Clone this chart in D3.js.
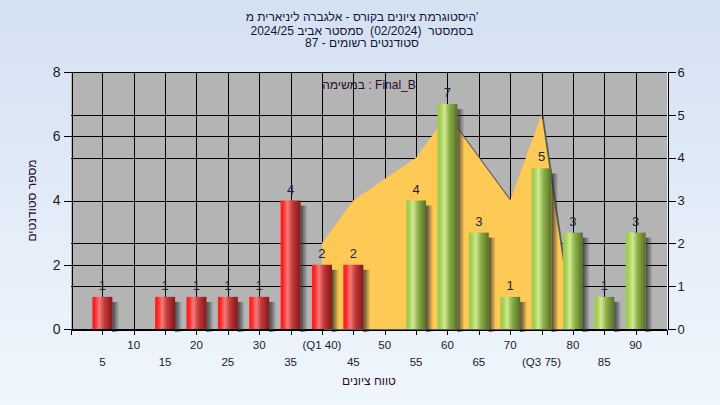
<!DOCTYPE html>
<html><head><meta charset="utf-8">
<script src="https://cdn.jsdelivr.net/npm/d3@7"></script>
<style>body{margin:0;}svg{display:block;} text{white-space:pre;}</style>
</head><body><svg id="c" width="720" height="405"></svg>
<script>
// ---- data ----
const categories = [5,10,15,20,25,30,35,40,45,50,55,60,65,70,75,80,85,90];
const counts     = [1,0,1,1,1,1,4,2,2,0,4,7,3,1,5,3,1,3];
const xLabels    = ["5","10","15","20","25","30","35","(Q1 40)","45","50","55","60","65","70","(Q3 75)","80","85","90"];
const passMark   = 50;
const areaX      = [40,40,45,50,55,60,65,70,75,80];
const areaY      = [0,2,3,3.5,4,5,4,3,5,0];
const leftTicks  = [0,2,4,6,8];
const rightTicks = [0,1,2,3,4,5,6];
const titleLines = ["היסטוגרמת ציונים בקורס - אלגברה ליניארית מ'", "בסמסטר  (02/2024)  סמסטר אביב 2024/25", "סטודנטים רשומים - 87"];
const taskLabel  = "במשימה : Final_B";
const yTitle = "מספר סטודנטים";
const xTitle = "טווח ציונים";

const svg = d3.select("#c");
const W = 720, H = 405;
const L = 71, R = 667, T = 72, B = 329;
const FONT = "'Liberation Sans', Arial, sans-serif";

const defs = svg.append("defs");
const bg = defs.append("linearGradient").attr("id","bg").attr("x1",0).attr("y1",0).attr("x2",0).attr("y2",1);
bg.append("stop").attr("offset","0%").attr("stop-color","#d4e1f2");
bg.append("stop").attr("offset","100%").attr("stop-color","#f0f6fd");
function cyl(id, c0, c1, c2, c3){
  const g = defs.append("linearGradient").attr("id",id).attr("x1",0).attr("y1",0).attr("x2",1).attr("y2",0);
  g.append("stop").attr("offset","0%").attr("stop-color",c0);
  g.append("stop").attr("offset","12%").attr("stop-color",c0);
  g.append("stop").attr("offset","35%").attr("stop-color",c1);
  g.append("stop").attr("offset","60%").attr("stop-color",c2);
  g.append("stop").attr("offset","100%").attr("stop-color",c3);
}
cyl("gRed","#ff2222","#f57a7a","#c23a3a","#861616");
cyl("gGreen","#a2cc4c","#cfe894","#8cb048","#566f26");
const sh = defs.append("linearGradient").attr("id","sh").attr("x1",0).attr("y1",0).attr("x2",1).attr("y2",0);
sh.append("stop").attr("offset","0%").attr("stop-color","#303030").attr("stop-opacity",0.85);
sh.append("stop").attr("offset","100%").attr("stop-color","#303030").attr("stop-opacity",0);

svg.append("rect").attr("width",W).attr("height",H).attr("fill","url(#bg)");

const x = d3.scaleLinear().domain([0,95]).range([L,R]);
const yL = d3.scaleLinear().domain([0,8]).range([B,T]);
const yR = d3.scaleLinear().domain([0,6]).range([B,T]);

// plot bg
svg.append("rect").attr("x",L).attr("y",T).attr("width",R-L).attr("height",B-T).attr("fill","#b4b4b4");

// gridlines
const grid = svg.append("g").attr("stroke","#000").attr("stroke-width",1).attr("shape-rendering","crispEdges");
leftTicks.forEach(v=>grid.append("line").attr("x1",L).attr("x2",R).attr("y1",Math.round(yL(v))+0.5).attr("y2",Math.round(yL(v))+0.5));
rightTicks.forEach(v=>grid.append("line").attr("x1",L).attr("x2",R).attr("y1",Math.round(yR(v))+0.5).attr("y2",Math.round(yR(v))+0.5));
categories.forEach(c=>grid.append("line").attr("x1",Math.round(x(c))+0.5).attr("x2",Math.round(x(c))+0.5).attr("y1",T).attr("y2",B));

// area
const areaPts = areaX.map((v,i)=>[x(v), yR(areaY[i])]);
const line = d3.line();
svg.append("path").attr("d", line(areaPts.map(p=>[p[0]+2,p[1]+1]))+"Z").attr("fill","#5a5a5a");
svg.append("path").attr("d", line(areaPts)+"Z").attr("fill","#fec955");

// bars
const bw = 20;
const bars = svg.append("g");
categories.forEach((c,i)=>{
  const v = counts[i];
  if(!v) return;
  const x0 = x(c)-bw/2, top = yL(v);
  bars.append("rect").attr("x",x0+bw).attr("y",top+5).attr("width",7).attr("height",B-top-5+3).attr("fill","url(#sh)");
  bars.append("rect").attr("x",x0).attr("y",top).attr("width",bw).attr("height",B-top)
    .attr("fill", c < passMark ? "url(#gRed)" : "url(#gGreen)");
  bars.append("text").attr("x",x(c)).attr("y",top-7).attr("text-anchor","middle")
    .attr("font-family",FONT).attr("font-size",13).attr("fill","#1c1c3c").text(v);
});

// axes
const axL = svg.append("g").attr("transform",`translate(${L+0.5},0)`)
  .call(d3.axisLeft(yL).tickValues(leftTicks).tickSize(8).tickSizeOuter(0).tickPadding(3).tickFormat(d3.format("d")));
axL.selectAll("text").attr("font-family",FONT).attr("font-size",14).attr("fill","#1a1a30");
const axR = svg.append("g").attr("transform",`translate(${R+0.5},0)`)
  .call(d3.axisRight(yR).tickValues(rightTicks).tickSize(8).tickSizeOuter(0).tickPadding(2).tickFormat(d3.format("d")));
axR.selectAll("text").attr("font-family",FONT).attr("font-size",13).attr("fill","#1a1a30");
const axB = svg.append("g").attr("transform",`translate(0,${B+0.5})`)
  .call(d3.axisBottom(x).tickValues([0].concat(categories,[95])).tickSize(5).tickSizeOuter(0).tickFormat(""));
[axL,axR,axB].forEach(a=>{a.selectAll("path,line").attr("stroke","#000").attr("shape-rendering","crispEdges");});

// x labels (staggered)
categories.forEach((c,i)=>{
  svg.append("text").attr("x",x(c)).attr("y", i%2===1 ? 349 : 366).attr("text-anchor","middle")
    .attr("font-family",FONT).attr("font-size",11.5).attr("fill","#1a1a30").text(xLabels[i]);
});

// titles
titleLines.forEach((t,i)=>{
  svg.append("text").attr("x",362).attr("y",[21,34.5,47][i]).attr("text-anchor","middle")
    .attr("font-family",FONT).attr("font-size",12).attr("fill","#14143a").text(t);
});
svg.append("text").attr("x",(L+R)/2).attr("y",89).attr("text-anchor","middle")
  .attr("font-family",FONT).attr("font-size",12).attr("fill","#2a0a30").text(taskLabel);
svg.append("text").attr("x",(L+R)/2).attr("y",385).attr("text-anchor","middle")
  .attr("font-family",FONT).attr("font-size",12).attr("fill","#2a0a30").text(xTitle);
svg.append("text").attr("transform",`translate(36,${(T+B)/2}) rotate(-90)`).attr("text-anchor","middle")
  .attr("font-family",FONT).attr("font-size",12).attr("fill","#2a0a30").text(yTitle);
</script></body></html>
